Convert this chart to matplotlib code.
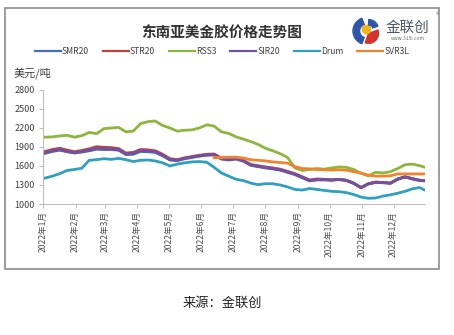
import numpy as np
import pandas as pd
import matplotlib
matplotlib.use("Agg")
import matplotlib.pyplot as plt
import matplotlib.dates as mdates
from matplotlib.patches import Rectangle, Wedge, Circle

plt.rcParams['font.family'] = ['Noto Sans CJK SC', 'DejaVu Sans']

# ----------------------------------------------------
# DATA (weekly readings, USD/ton)

dates = list(pd.date_range('2022-01-03', '2022-12-26', freq='W-MON')) + [pd.Timestamp('2022-12-30')]

smr20 = [1800, 1830, 1850, 1825, 1805, 1820, 1840, 1865, 1860, 1860, 1850, 1780,
         1785, 1830, 1825, 1815, 1760, 1695, 1685, 1715, 1735, 1755, 1770, 1775,
         1710, 1695, 1710, 1675, 1610, 1590, 1570, 1555, 1535, 1500, 1465, 1415,
         1365, 1380, 1380, 1375, 1385, 1370, 1325, 1255, 1315, 1340, 1335, 1325,
         1390, 1425, 1395, 1370, 1365]
str20 = [1830, 1860, 1880, 1850, 1825, 1845, 1870, 1905, 1895, 1890, 1875, 1805,
         1815, 1860, 1855, 1840, 1785, 1715, 1700, 1730, 1750, 1770, 1785, 1790,
         1725, 1710, 1725, 1690, 1625, 1605, 1585, 1570, 1550, 1515, 1480, 1430,
         1380, 1395, 1390, 1380, 1390, 1375, 1330, 1260, 1320, 1345, 1340, 1330,
         1395, 1430, 1400, 1375, 1370]
rss3 = [2055, 2060, 2075, 2085, 2055, 2080, 2130, 2110, 2190, 2200, 2210, 2140,
        2150, 2270, 2300, 2310, 2240, 2200, 2150, 2165, 2170, 2200, 2250, 2230,
        2140, 2115, 2060, 2025, 1985, 1940, 1880, 1840, 1795, 1735, 1570, 1530,
        1545, 1560, 1550, 1570, 1585, 1580, 1545, 1485, 1445, 1500, 1490, 1510,
        1560, 1620, 1630, 1605, 1585]
sir20 = [1810, 1840, 1860, 1830, 1810, 1830, 1850, 1880, 1870, 1870, 1860, 1790,
         1800, 1845, 1840, 1825, 1770, 1700, 1690, 1720, 1740, 1760, 1775, 1780,
         1715, 1700, 1715, 1680, 1615, 1595, 1575, 1560, 1540, 1505, 1470, 1420,
         1370, 1385, 1385, 1380, 1390, 1375, 1330, 1260, 1320, 1345, 1340, 1330,
         1395, 1430, 1400, 1375, 1370]
drum = [1410, 1440, 1480, 1530, 1545, 1565, 1690, 1700, 1715, 1705, 1720, 1700,
        1670, 1690, 1695, 1680, 1650, 1600, 1630, 1650, 1665, 1670, 1660, 1580,
        1490, 1440, 1390, 1370, 1330, 1305, 1320, 1320, 1300, 1270, 1230, 1220,
        1245, 1230, 1215, 1200, 1195, 1180, 1150, 1110, 1090, 1095, 1125, 1145,
        1170, 1200, 1240, 1260, 1225]
svr3l = [np.nan] * 23 + [
        1730, 1735, 1740, 1740, 1725, 1700, 1690, 1680, 1665, 1655, 1645, 1590,
        1560, 1555, 1545, 1540, 1535, 1540, 1535, 1510, 1490, 1455, 1440, 1440,
        1445, 1475, 1475, 1475, 1475, 1475]

series_names = ['SMR20', 'STR20', 'RSS3', 'SIR20', 'Drum', 'SVR3L']
series_values = [smr20, str20, rss3, sir20, drum, svr3l]
series_colors = ['#3f6fbf', '#c0413c', '#8cb63c', '#7450a0', '#2f9fc0', '#f0842c']

month_ticks = pd.date_range('2022-01-01', '2022-12-01', freq='MS')
month_labels = [f'2022年{m.month}月' for m in month_ticks]

# ----------------------------------------------------
# FIGURE

fig = plt.figure(figsize=(4.54, 3.35), dpi=100)
fig.patch.set_facecolor('white')

# gray frame round the chart block
fig.add_artist(Rectangle((5 / 454, 1 - 269 / 335), 434 / 454, 261 / 335,
                         transform=fig.transFigure, fill=False,
                         edgecolor='#8c8c8c', linewidth=1.2))

ax = fig.add_axes([43 / 454, 1 - 204 / 335, 382 / 454, 114 / 335])

for name, vals, col in zip(series_names, series_values, series_colors):
    ax.plot(dates, vals, color=col, linewidth=2.0, label=name,
            solid_joinstyle='round')

ax.set_ylim(1000, 2800)
ax.set_yticks(range(1000, 2801, 300))
ax.set_xlim(pd.Timestamp('2022-01-01'), pd.Timestamp('2022-12-31'))
ax.set_xticks(month_ticks)
ax.set_xticklabels(month_labels, rotation=90)

for side in ['top', 'right']:
    ax.spines[side].set_visible(False)
for side in ['left', 'bottom']:
    ax.spines[side].set_color('#bfbfbf')
    ax.spines[side].set_linewidth(0.8)
ax.tick_params(axis='both', colors='#bfbfbf', length=3, width=0.8)
ax.tick_params(axis='y', labelsize=6.5, labelcolor='#404040', pad=3)
ax.tick_params(axis='x', labelsize=6.2, labelcolor='#505050', pad=2)

fig.text(14 / 454, 1 - 73 / 335, '美元/吨', fontsize=8, color='#404040',
         va='center', ha='left')

fig.text(222 / 454, 1 - 33 / 335, '东南亚美金胶价格走势图', fontsize=10.5,
         fontweight='bold', color='#333333', ha='center', va='center')

leg = fig.legend(loc='center', bbox_to_anchor=(222 / 454, 1 - 52 / 335), ncol=6,
                 frameon=False, fontsize=6.2, handlelength=3.0, handletextpad=0.15,
                 columnspacing=1.6, borderaxespad=0)
for line in leg.get_lines():
    line.set_linewidth(1.6)
for t in leg.get_texts():
    t.set_color('#404040')

# logo mark
logo = fig.add_axes([350 / 454, 1 - 46 / 335, 30 / 454, 30 / 335])
logo.set_xlim(0, 1)
logo.set_ylim(0, 1)
logo.axis('off')
logo.add_patch(Wedge((0.55, 0.5), 0.45, 110, 250, width=0.22, color='#2f56a6'))
logo.add_patch(Wedge((0.62, 0.42), 0.33, 250, 20, color='#d2332c'))
logo.add_patch(Circle((0.55, 0.55), 0.14, color='#f2b51d'))
logo.add_patch(Wedge((0.62, 0.55), 0.33, 20, 90, width=0.18, color='#2f56a6'))
fig.text(408 / 454, 1 - 28 / 335, '金联创', fontsize=10.5, color='#4a5868',
         ha='center', va='center')
fig.text(408 / 454, 1 - 38 / 335, 'www.315i.com', fontsize=3.5, color='#666666',
         ha='center', va='center')
fig.text(437 / 454, 1 - 15 / 335, '®', fontsize=5, color='#777777',
         ha='center', va='center')

fig.text(222 / 454, 1 - 303 / 335, '来源：金联创', fontsize=9.5, color='#222222',
         ha='center', va='center')

fig.savefig('out.png', dpi=100, facecolor='white')
